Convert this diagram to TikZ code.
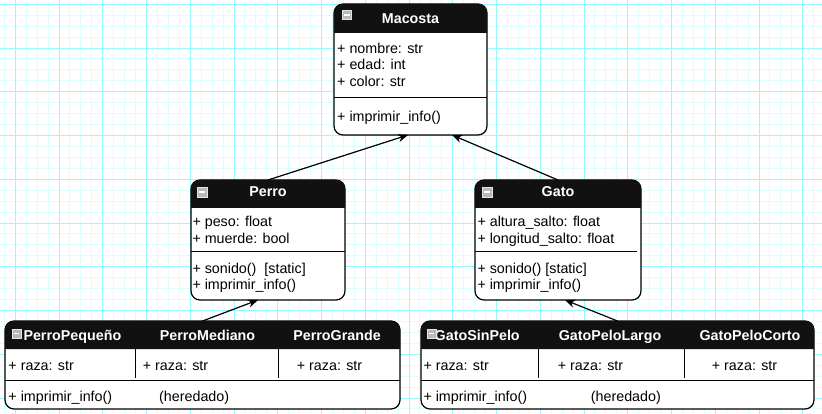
\documentclass[tikz,border=0pt]{standalone}
\usepackage{fontspec}
\setmainfont{Liberation Sans}
\usetikzlibrary{arrows.meta,calc}
\definecolor{gridmajor}{RGB}{150,250,255}
\definecolor{gridminor}{RGB}{218,255,255}
\definecolor{hdrblack}{RGB}{17,17,17}
\tikzset{
  umlbox/.style={draw=black, line width=1.2pt, fill=white, rounded corners=9pt, inner sep=0pt, outer sep=0pt, anchor=north west},
  hdrfill/.style={fill=hdrblack},
  txt/.style={anchor=base west, inner sep=0pt, text=black},
  htxt/.style={anchor=base, inner sep=0pt, text=white, font=\fontsize{14.3}{16}\selectfont\bfseries},
  hltxt/.style={anchor=base west, inner sep=0pt, text=white, font=\fontsize{14.3}{16}\selectfont\bfseries},
  sepline/.style={draw=black, line width=1pt},
  inh/.style={draw=black, line width=1.2pt, -{Stealth[length=10pt,width=8pt,inset=3pt]}},
}
\newcommand\mkicon[3]{%
  \fill[gray!55] (#1,#2) rectangle ++(#3,#3);
  \draw[gray!20, line width=0.7pt] (#1,#2) rectangle ++(#3,#3);
  \fill[white] ($(#1,#2)+(1.8,#3/2-0.9)$) rectangle ++(#3-3.6,1.8);
}
\newcommand\mkheader[5]{% x1 y1 x2 yh
  \fill[hdrfill] (#1,#4) [rounded corners=9pt] -- (#1,#2) -- (#3,#2) [sharp corners] -- (#3,#4) -- cycle;
}
\begin{document}
\begin{tikzpicture}[x=1pt, y=-1pt, font=\fontsize{14.3}{16}\selectfont]
\useasboundingbox[fill=white] (0,0) rectangle (822,414);
% grid
\foreach \i in {0,...,75} \draw[gridminor, line width=1pt] ({4.36+\i*10.9375},0) -- ({4.36+\i*10.9375},414);
\foreach \i in {0,...,37} \draw[gridminor, line width=1pt] (0,{4.3+\i*10.9375}) -- (822,{4.3+\i*10.9375});
\foreach \i in {0,...,18} \draw[gridmajor, line width=1pt] ({15.3+\i*43.75},0) -- ({15.3+\i*43.75},414);
\foreach \i in {0,...,9} \draw[gridmajor, line width=1pt] (0,{4.3+\i*43.75}) -- (822,{4.3+\i*43.75});

% ---------- Macosta ----------
\node[umlbox, minimum width=153pt, minimum height=131pt] (macosta) at (334,4) {};
\mkheader{334}{4}{487}{33}{}
\mkicon{342}{10}{9.5}
\node[htxt] (macostaT) at (410.5,23.4) {Macosta};
\node[txt] (macA1) at (337,53.3) {+ nombre: str};
\node[txt] (macA2) at (337,70) {+ edad: int};
\node[txt] (macA3) at (337,87) {+ color: str};
\draw[sepline] (334,98) -- (487,98);
\node[txt] (macM1) at (337,121.7) {+ imprimir\_info()};

% ---------- Perro ----------
\node[umlbox, minimum width=154pt, minimum height=120pt] (perro) at (191,180) {};
\mkheader{191}{180}{345}{208}{}
\mkicon{197}{187}{10}
\node[htxt] (perroT) at (268,196.7) {Perro};
\node[txt] (perA1) at (192.3,226.7) {+ peso: float};
\node[txt] (perA2) at (192.3,243.3) {+ muerde: bool};
\draw[sepline] (191,252) -- (345,252);
\node[txt] (perM1) at (192.3,273.3) {+ sonido()\ \ [static]};
\node[txt] (perM2) at (192.3,289) {+ imprimir\_info()};

% ---------- Gato ----------
\node[umlbox, minimum width=166pt, minimum height=120pt] (gato) at (475,180) {};
\mkheader{475}{180}{641}{208}{}
\mkicon{482}{187}{10}
\node[htxt] (gatoT) at (558,196.7) {Gato};
\node[txt] (gatA1) at (477.3,226.7) {+ altura\_salto: float};
\node[txt] (gatA2) at (477.3,243.3) {+ longitud\_salto: float};
\draw[sepline] (475,252) -- (637,252);
\node[txt] (gatM1) at (477.3,273.3) {+ sonido() [static]};
\node[txt] (gatM2) at (477.3,289) {+ imprimir\_info()};

% ---------- Perro group ----------
\node[umlbox, minimum width=395pt, minimum height=88pt] (pgroup) at (5,321) {};
\mkheader{5}{321}{400}{349}{}
\node[hltxt] (pg1) at (23.3,340.7) {PerroPequeño};
\node[htxt] (pg2) at (207.5,340.7) {PerroMediano};
\node[htxt] (pg3) at (337,340.7) {PerroGrande};
\mkicon{12}{329}{9}
\draw[sepline] (135,349) -- (135,378);
\draw[sepline] (278,349) -- (278,378);
\draw[sepline] (5,380) -- (400,380);
\node[txt] (pgA1) at (8.3,370.7) {+ raza: str};
\node[txt] (pgA2) at (142.7,370.7) {+ raza: str};
\node[txt] (pgA3) at (296.7,370.7) {+ raza: str};
\node[txt] (pgM1) at (8.3,401) {+ imprimir\_info()};
\node[txt] (pgM2) at (159,401) {(heredado)};

% ---------- Gato group ----------
\node[umlbox, minimum width=393pt, minimum height=88pt] (ggroup) at (421,321) {};
\mkheader{421}{321}{814}{349}{}
\node[hltxt] (gg1) at (434.5,340.7) {GatoSinPelo};
\node[htxt] (gg2) at (610,340.7) {GatoPeloLargo};
\node[htxt] (gg3) at (750,340.7) {GatoPeloCorto};
\mkicon{427}{329}{9}
\draw[sepline] (538,349) -- (538,378);
\draw[sepline] (684,349) -- (684,378);
\draw[sepline] (421,380) -- (814,380);
\node[txt] (ggA1) at (423.3,370.7) {+ raza: str};
\node[txt] (ggA2) at (557.7,370.7) {+ raza: str};
\node[txt] (ggA3) at (711.7,370.7) {+ raza: str};
\node[txt] (ggM1) at (423.3,401) {+ imprimir\_info()};
\node[txt] (ggM2) at (590.7,401) {(heredado)};

% ---------- inheritance arrows ----------
\draw[inh] (perro.north) -- ($(macosta.south)+(-2.5,0)$);
\draw[inh] (gato.north) -- ($(macosta.south)+(41.5,0)$);
\draw[inh] (pgroup.north) -- ($(perro.south)+(-10,0)$);
\draw[inh] (ggroup.north) -- ($(gato.south)+(7,0)$);
\end{tikzpicture}
\end{document}
